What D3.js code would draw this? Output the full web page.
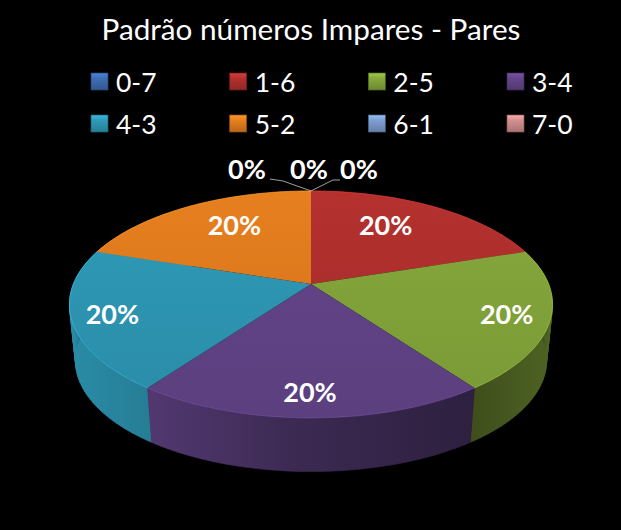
<!DOCTYPE html>
<html>
<head>
<meta charset="utf-8">
<script src="https://cdn.jsdelivr.net/npm/d3@7"></script>
<style>
  html, body { margin: 0; padding: 0; background: #000; }
  text { font-family: Lato, "Open Sans", sans-serif; fill: #fff; }
</style>
</head>
<body>
<div id="chart"></div>
<script>
// Data
const chartTitle = "Padrão números Impares - Pares";
const categories = ["0-7", "1-6", "2-5", "3-4", "4-3", "5-2", "6-1", "7-0"];
const shares = [0, 0.2, 0.2, 0.2, 0.2, 0.2, 0, 0];
const colors = ["#3f6fb5", "#b5312f", "#87aa3c", "#65468c", "#2f9cba", "#e8801f", "#7f9fd3", "#d49090"];

// Set props
const width = 621, height = 530;
const cx = 311, cy = 284;      // apex of the pie on screen
const radiusX = 237.6, radiusY = 109.8;
const perspective = 0.18;
const depth = 57, bottomScale = 0.975;

const svg = d3.select("#chart").append("svg")
    .attr("width", width)
    .attr("height", height)
    .style("display", "block");
const defs = svg.append("defs");

svg.append("rect").attr("width", width).attr("height", height).attr("fill", "#000");

// Tilted circle: angle 0 is the far point, going clockwise
function project(angle, r, bottom) {
    const s = Math.sin(angle), c = Math.cos(angle);
    const k = bottom ? bottomScale : 1;
    const w = 1 + perspective * r * c;
    return [
        cx + k * radiusX * r * s / w,
        cy + (bottom ? depth : 0) - k * radiusY * r * c / w
    ];
}

function rimPoints(a0, a1, bottom) {
    const n = Math.max(2, Math.ceil((a1 - a0) * 40));
    return d3.range(n + 1).map(i => project(a0 + (a1 - a0) * i / n, 1, bottom));
}

const line = d3.line();
const slices = d3.pie().sort(null).value((d, i) => shares[i])(categories)
    .map((d, i) => ({ ...d, name: d.data, color: colors[i], index: i }))
    .filter(d => d.value > 0);

function scaleColor(color, f) {
    const c = d3.rgb(color);
    return d3.rgb(c.r * f, c.g * f, c.b * f).formatHex();
}

// Side walls, back ones first
const sideShade = [[0, 0.9], [0.17, 0.8], [0.48, 0.58], [0.83, 0.46], [1, 0.58]];
const sideOrder = slices.slice().sort((a, b) =>
    Math.cos((b.startAngle + b.endAngle) / 2) - Math.cos((a.startAngle + a.endAngle) / 2));

sideOrder.forEach(d => {
    const grad = defs.append("linearGradient")
        .attr("id", "side" + d.index)
        .attr("gradientUnits", "userSpaceOnUse")
        .attr("x1", cx - radiusX * 1.02).attr("x2", cx + radiusX * 1.02)
        .attr("y1", 0).attr("y2", 0);
    sideShade.forEach(s => grad.append("stop")
        .attr("offset", s[0])
        .attr("stop-color", scaleColor(d.color, s[1])));

    // One quad per rim step, so the wall also covers the tangent at the far left and right
    const upper = rimPoints(d.startAngle, d.endAngle, false);
    const lower = rimPoints(d.startAngle, d.endAngle, true);
    const quads = d3.range(upper.length - 1).map(i =>
        line([upper[i], upper[i + 1], lower[i + 1], lower[i]]) + "Z");
    svg.append("path")
        .attr("d", quads.join(""))
        .attr("fill", "url(#side" + d.index + ")")
        .attr("stroke", "url(#side" + d.index + ")")
        .attr("stroke-width", 0.6);
});

// Top face
slices.forEach(d => {
    const grad = defs.append("linearGradient")
        .attr("id", "top" + d.index)
        .attr("gradientUnits", "userSpaceOnUse")
        .attr("x1", 0).attr("x2", 0)
        .attr("y1", cy - radiusY).attr("y2", cy + radiusY * 1.2);
    grad.append("stop").attr("offset", 0).attr("stop-color", scaleColor(d.color, 1.0));
    grad.append("stop").attr("offset", 1).attr("stop-color", scaleColor(d.color, 0.9));

    const pts = [[cx, cy]].concat(rimPoints(d.startAngle, d.endAngle, false));
    svg.append("path")
        .attr("d", line(pts) + "Z")
        .attr("fill", "url(#top" + d.index + ")");

    // thin bevel along the rim
    svg.append("path")
        .attr("d", line(rimPoints(d.startAngle, d.endAngle, false)))
        .attr("fill", "none")
        .attr("stroke", d3.rgb(d.color).brighter(0.9))
        .attr("stroke-opacity", 0.45)
        .attr("stroke-width", 1);
});

// Title
svg.append("text")
    .attr("x", 311).attr("y", 40)
    .attr("text-anchor", "middle")
    .attr("font-size", 29.7)
    .text(chartTitle);

// Legend
const legendCol = d3.scalePoint().domain(d3.range(4)).range([91, 507]);
const legendRow = d3.scalePoint().domain(d3.range(2)).range([82, 124]);

categories.forEach((name, i) => {
    const g = svg.append("g")
        .attr("transform", "translate(" + legendCol(i % 4) + "," + legendRow(Math.floor(i / 4)) + ")");
    const grad = defs.append("linearGradient")
        .attr("id", "key" + i)
        .attr("x1", 0).attr("x2", 0).attr("y1", 0).attr("y2", 1);
    grad.append("stop").attr("offset", 0).attr("stop-color", d3.rgb(colors[i]).brighter(0.5));
    grad.append("stop").attr("offset", 0.3).attr("stop-color", colors[i]);
    grad.append("stop").attr("offset", 1).attr("stop-color", scaleColor(colors[i], 0.8));
    g.append("rect")
        .attr("x", 0).attr("y", -9)
        .attr("width", 17).attr("height", 17)
        .attr("fill", "url(#key" + i + ")")
        .attr("stroke", scaleColor(colors[i], 0.6))
        .attr("stroke-width", 0.7);
    g.append("text")
        .attr("x", 25).attr("y", 9.5)
        .attr("font-size", 26.5)
        .text(name);
});

// Data labels sit on the mid angle, then get nudged like the original's best fit
const labelRadius = 0.85;
const labelNudge = { 1: [-31, 9], 2: [-6, 0], 3: [-1, -2], 4: [3, 0], 5: [29, 9] };

slices.forEach(d => {
    const p = project((d.startAngle + d.endAngle) / 2, labelRadius, false);
    const n = labelNudge[d.index];
    svg.append("text")
        .attr("x", p[0] + n[0]).attr("y", p[1] + n[1])
        .attr("dy", "0.35em")
        .attr("text-anchor", "middle")
        .attr("font-size", 27)
        .attr("font-weight", "bold")
        .text(d3.format(".0%")(d.value));
});

// Zero slices pile up on the far point, with leader lines
const farPoint = project(0, 1, false);
const zeroLabels = categories.map((c, i) => i).filter(i => shares[i] === 0);
const zeroX = { 0: 309, 6: 247, 7: 359 };
const zeroLeader = {
    6: [farPoint, [283, 181], [270, 179]],
    7: [farPoint, [333, 180], [340, 180]]
};

zeroLabels.forEach(i => {
    svg.append("text")
        .attr("x", zeroX[i]).attr("y", 170)
        .attr("dy", "0.35em")
        .attr("text-anchor", "middle")
        .attr("font-size", 27)
        .attr("font-weight", "bold")
        .text(d3.format(".0%")(shares[i]));
    if (zeroLeader[i]) {
        svg.append("path")
            .attr("d", line(zeroLeader[i]))
            .attr("fill", "none")
            .attr("stroke", "#c8c8c8")
            .attr("stroke-width", 0.8);
    }
});
</script>
</body>
</html>
